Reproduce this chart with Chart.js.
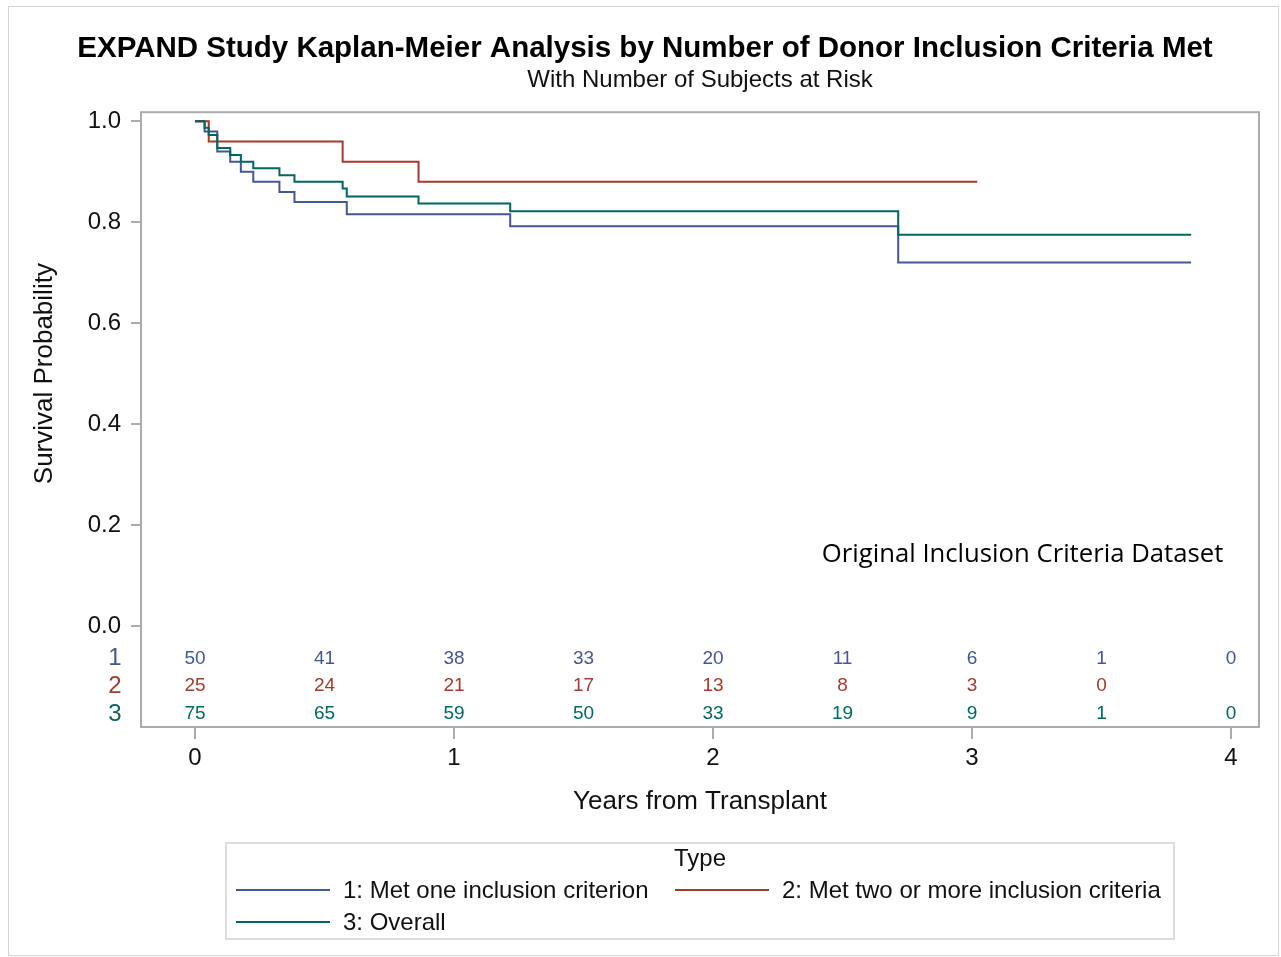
<!DOCTYPE html>
<html>
<head>
<meta charset="utf-8">
<title>EXPAND Kaplan-Meier</title>
<script src="https://cdn.jsdelivr.net/npm/chart.js@4.4.1/dist/chart.umd.min.js"></script>
<style>
  html, body { margin: 0; padding: 0; background: #fff; }
  body { width: 1281px; height: 957px; position: relative; overflow: hidden; font-family: "Liberation Sans", Arial, sans-serif; }
  #wrap { position: absolute; left: 0; top: 0; width: 1281px; height: 957px; }
  #outer { position: absolute; left: 8px; top: 6px; width: 1269px; height: 948px; border: 1px solid #d4d4d4; pointer-events: none; }
  #legend { position: absolute; left: 225px; top: 842px; width: 950px; height: 98px; box-sizing: border-box; border: 2px solid #dcdcdc; }
  #legend .ttl { position: absolute; left: 0; right: 0; top: 0; text-align: center; font-size: 24px; line-height: 28px; color: #111; }
  #legend .items { position: absolute; left: 9px; top: 30px; display: grid; grid-template-columns: 439px auto; grid-auto-rows: 32px; }
  #legend .item { display: flex; align-items: center; font-size: 24px; color: #111; white-space: nowrap; }
  #legend .swatch { width: 94px; height: 2px; margin-right: 13px; }
</style>
</head>
<body>
<div id="wrap"><canvas id="km"></canvas></div>
<div id="outer"></div>
<div id="legend"><div class="ttl">Type</div><div class="items" id="legendItems"></div></div>
<script>
// Curve colours (SAS HTMLBlue style)
const SERIES_COLORS = ['#445694', '#A23A2E', '#01665E'];
const SERIES_LABELS = ['1: Met one inclusion criterion', '2: Met two or more inclusion criteria', '3: Overall'];
const FRAME = '#a9adb2';

// Kaplan-Meier steps: event times (years) and survival after each
const blueTimes = [0, 0.037, 0.086, 0.136, 0.177, 0.225, 0.326, 0.384, 0.586, 1.217, 2.715, 3.846];
const blueSurv  = [1, 0.98, 0.94, 0.92, 0.90, 0.88, 0.86, 0.84, 0.816, 0.792, 0.72, 0.72];
const redTimes  = [0, 0.053, 0.570, 0.863, 3.02];
const redSurv   = [1, 0.96, 0.92, 0.88, 0.88];
const greenTimes = [0, 0.037, 0.053, 0.086, 0.136, 0.177, 0.225, 0.326, 0.384, 0.570, 0.586, 0.863, 1.217, 2.715, 3.846];
const greenSurv  = [1, 0.987, 0.973, 0.947, 0.933, 0.92, 0.907, 0.893, 0.88, 0.867, 0.851, 0.837, 0.822, 0.775, 0.775];

// Number at risk table
const riskTimes = [0, 0.5, 1, 1.5, 2, 2.5, 3, 3.5, 4];
const risk1 = [50, 41, 38, 33, 20, 11, 6, 1, 0];
const risk2 = [25, 24, 21, 17, 13, 8, 3, 0, null];
const risk3 = [75, 65, 59, 50, 33, 19, 9, 1, 0];
const riskRowLabels = ['1', '2', '3'];
const riskRowLevels = [-0.064, -0.119, -0.174]; // y positions of the rows under the curves

const xTicks = [0, 1, 2, 3, 4];
const yTicks = [0, 0.2, 0.4, 0.6, 0.8, 1.0];

const FONT = '"Liberation Sans", Arial, sans-serif';

function toPoints(times, surv) {
    return times.map((t, i) => ({ x: t, y: surv[i] }));
}

// Extra drawing: frame, at-risk numbers, y title, dataset note
const kmExtras = {
    id: 'kmExtras',
    afterDraw(chart) {
        const { ctx, chartArea: a, scales: { x, y } } = chart;
        ctx.save();
        ctx.strokeStyle = FRAME;
        ctx.lineWidth = 2;
        ctx.strokeRect(a.left, a.top, a.right - a.left, a.bottom - a.top);

        const rows = [risk1, risk2, risk3];
        ctx.textBaseline = 'middle';
        ctx.textAlign = 'center';
        rows.forEach((row, r) => {
            const py = y.getPixelForValue(riskRowLevels[r]);
            ctx.fillStyle = SERIES_COLORS[r];
            ctx.font = '19px ' + FONT;
            row.forEach((n, i) => {
                if (n === null) return;
                ctx.fillText(String(n), x.getPixelForValue(riskTimes[i]), py);
            });
            ctx.font = '24px ' + FONT;
            ctx.fillText(riskRowLabels[r], a.left - 26, py);
        });

        // y axis title, centred on the 0..1 range
        const yc = (y.getPixelForValue(0) + y.getPixelForValue(1)) / 2;
        ctx.save();
        ctx.translate(45, yc);
        ctx.rotate(-Math.PI / 2);
        ctx.fillStyle = '#111';
        ctx.font = '26px ' + FONT;
        ctx.fillText('Survival Probability', 0, 0);
        ctx.restore();

        // note
        ctx.fillStyle = '#000';
        ctx.textAlign = 'left';
        ctx.font = '25.7px "Open Sans", sans-serif';
        ctx.fillText('Original Inclusion Criteria Dataset', x.getPixelForValue(2.42), y.getPixelForValue(0.142));
        ctx.restore();
    }
};

const datasets = [
    { label: SERIES_LABELS[0], data: toPoints(blueTimes, blueSurv), borderColor: SERIES_COLORS[0], order: 3 },
    { label: SERIES_LABELS[1], data: toPoints(redTimes, redSurv), borderColor: SERIES_COLORS[1], order: 2 },
    { label: SERIES_LABELS[2], data: toPoints(greenTimes, greenSurv), borderColor: SERIES_COLORS[2], order: 1 }
].map(d => ({ ...d, stepped: 'before', borderWidth: 2, pointRadius: 0, fill: false, tension: 0 }));

new Chart(document.getElementById('km'), {
    type: 'line',
    data: { datasets },
    options: {
        responsive: true,
        maintainAspectRatio: false,
        animation: false,
        events: [],
        layout: { padding: { left: 31, right: 22, top: 0, bottom: 130 } },
        plugins: {
            legend: { display: false },
            tooltip: { enabled: false },
            title: {
                display: true,
                text: 'EXPAND Study Kaplan-Meier Analysis by Number of Donor Inclusion Criteria Met',
                color: '#000',
                font: { family: FONT, size: 29.5, weight: 'bold' },
                padding: { top: 31, bottom: 0 }
            },
            subtitle: {
                display: true,
                fullSize: false,
                text: 'With Number of Subjects at Risk',
                color: '#111',
                font: { family: FONT, size: 24 },
                padding: { top: 0, bottom: 17 }
            }
        },
        scales: {
            x: {
                type: 'linear',
                min: -0.2085,
                max: 4.108,
                afterBuildTicks: s => { s.ticks = xTicks.map(v => ({ value: v })); },
                afterFit: s => { s.height = 100; },
                grid: { drawOnChartArea: false, drawTicks: true, tickLength: 12, color: FRAME, lineWidth: 2 },
                border: { display: false },
                ticks: { color: '#111', font: { family: FONT, size: 24 }, padding: 5, callback: v => String(v) },
                title: { display: true, text: 'Years from Transplant', color: '#111', font: { family: FONT, size: 26 }, padding: { top: 0, bottom: 10 } }
            },
            y: {
                type: 'linear',
                min: -0.2,
                max: 1.018,
                afterBuildTicks: s => { s.ticks = yTicks.map(v => ({ value: v })); },
                afterFit: s => { s.width = 110; },
                grid: { drawOnChartArea: false, drawTicks: true, tickLength: 10, color: FRAME, lineWidth: 2 },
                border: { display: false },
                ticks: { color: '#111', font: { family: FONT, size: 24 }, padding: 10, callback: v => v.toFixed(1) }
            }
        }
    },
    plugins: [kmExtras]
});

// Legend built from the same series
const legendBox = document.getElementById('legendItems');
SERIES_LABELS.forEach((lab, i) => {
    const item = document.createElement('div');
    item.className = 'item';
    const sw = document.createElement('span');
    sw.className = 'swatch';
    sw.style.background = SERIES_COLORS[i];
    const tx = document.createElement('span');
    tx.textContent = lab;
    item.appendChild(sw);
    item.appendChild(tx);
    legendBox.appendChild(item);
});
</script>
</body>
</html>
